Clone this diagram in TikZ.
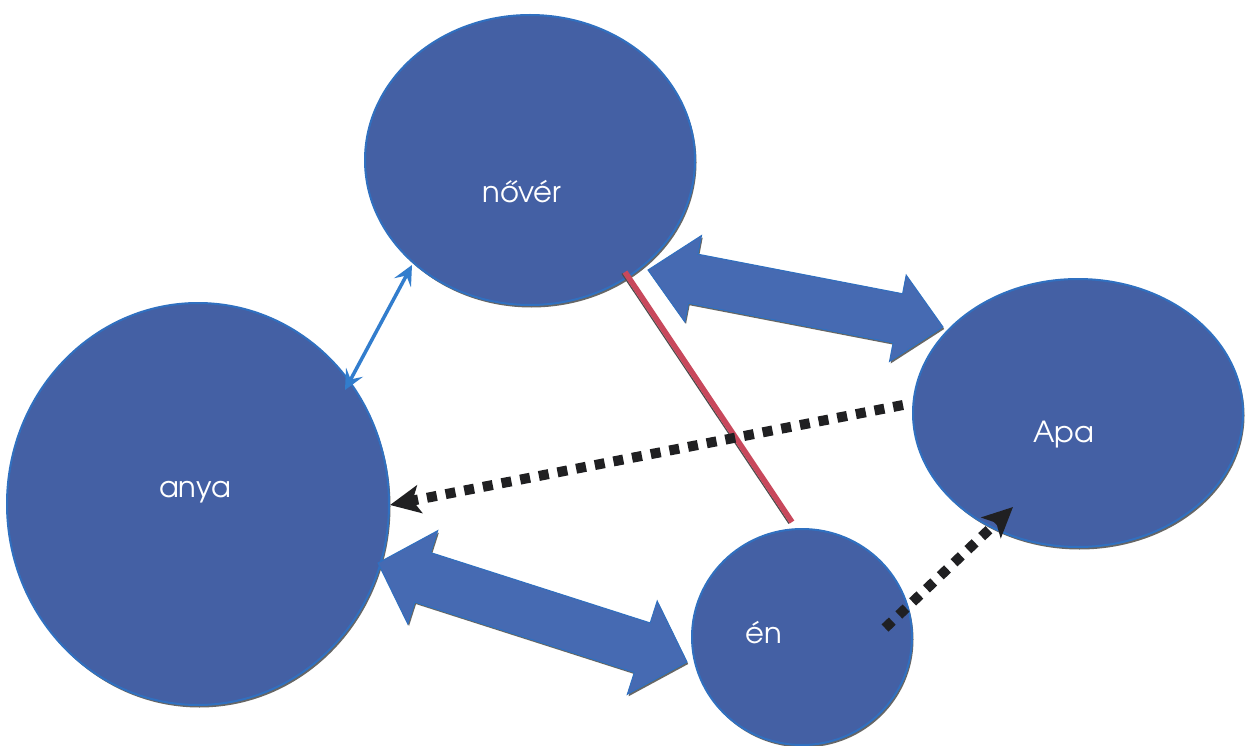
\documentclass[tikz,border=0pt]{standalone}
\usepackage{fontspec}
\setmainfont{texgyreadventor}[Extension=.otf,UprightFont=*-regular,BoldFont=*-bold]
\usetikzlibrary{shapes.geometric,arrows.meta,calc,shadows}
\definecolor{circfill}{RGB}{68,96,164}
\definecolor{circedge}{RGB}{48,112,192}
\definecolor{arrfill}{RGB}{70,106,178}
\definecolor{thinblue}{RGB}{50,125,205}
\definecolor{redline}{RGB}{200,72,92}
\definecolor{dotcol}{RGB}{32,32,34}
\tikzset{
  person/.style={ellipse, inner sep=0pt, fill=circfill, draw=circedge, line width=2pt,
    drop shadow={shadow xshift=1.5pt, shadow yshift=-2.5pt, fill=black!80, opacity=.75}},
  plabel/.style={text=white, font=\fontsize{29}{31}\selectfont, anchor=base},
  blockarrow/.style={fill=arrfill, draw=circedge, line width=1pt,
    drop shadow={shadow xshift=1.2pt, shadow yshift=-2pt, fill=black!80, opacity=.75}},
  dotarrow/.style={draw=dotcol, line width=10pt, dash pattern=on 10pt off 9pt,
    -{Stealth[length=30pt,width=28pt,inset=7pt]}},
  thinarrow/.style={draw=thinblue, line width=3.5pt,
    {Stealth[length=20pt,width=19pt,inset=8pt]}-{Stealth[length=20pt,width=19pt,inset=8pt]}},
}
\newcommand\blockarr[5]{%
  \coordinate (ba1) at ($(#1)!#3!(#2)$);
  \coordinate (ba2) at ($(#2)!#3!(#1)$);
  \path[blockarrow] (#1) -- ($(ba1)!#4!90:(#2)$) -- ($(ba1)!#5!90:(#2)$)
    -- ($(ba2)!#5!-90:(#1)$) -- ($(ba2)!#4!-90:(#1)$) -- (#2)
    -- ($(ba2)!#4!90:(#1)$) -- ($(ba2)!#5!90:(#1)$)
    -- ($(ba1)!#5!-90:(#2)$) -- ($(ba1)!#4!-90:(#2)$) -- cycle;}
\begin{document}
\begin{tikzpicture}[x=1pt,y=-1pt]
\useasboundingbox[fill=white] (0,0) rectangle (1245,746);

% people
\node[person, minimum width=330pt, minimum height=290pt,
  label={[plabel, xshift=-8pt, yshift=-32pt]center:nővér}] (nover) at (530,160) {};
\node[person, minimum width=382pt, minimum height=402pt,
  label={[plabel, xshift=-3pt, yshift=12pt]center:anya}] (anya) at (198,504) {};
\node[person, minimum width=330pt, minimum height=268pt,
  label={[plabel, xshift=-14pt, yshift=-22pt]center:Apa}] (apa) at (1078,413) {};
\node[person, minimum width=220pt, minimum height=216pt,
  label={[plabel, xshift=-38pt, yshift=4pt]center:én}] (en) at (802,637) {};

% end points of the connectors
\coordinate (nvA) at ($(nover)+(118,110)$);
\coordinate (apN) at ($(apa)+(-135,-86)$);
\coordinate (anE) at ($(anya)+(180,59)$);
\coordinate (enA) at ($(en)+(-115,25)$);
\coordinate (anN) at ($(anya)+(147,-114)$);
\coordinate (nvAn) at ($(nover)+(-118,105)$);
\coordinate (nvR) at ($(nover)+(95,112)$);
\coordinate (enR) at ($(en)+(-10,-115)$);
\coordinate (apD) at ($(apa)+(-175,-8)$);
\coordinate (anD) at ($(anya)+(192,1)$);
\coordinate (enD) at ($(en)+(83,-9)$);
\coordinate (apE) at ($(apa)+(-65,94)$);

% block arrows
\blockarr{nvA}{apN}{46pt}{44pt}{25pt}
\blockarr{anE}{enA}{47pt}{49pt}{26pt}

% thin double arrow anya - nover
\draw[thinarrow] (anN) -- (nvAn);

% red line nover - en
\draw[black!70, line width=1.3pt] ([xshift=-3pt,yshift=-1.5pt]nvR) -- ([xshift=-3pt,yshift=-1.5pt]enR);
\draw[redline, line width=5.5pt] (nvR) -- (enR);

% dotted arrows
\draw[dotarrow] (apD) -- (anD);
\draw[dotarrow] (enD) -- (apE);
\end{tikzpicture}
\end{document}
